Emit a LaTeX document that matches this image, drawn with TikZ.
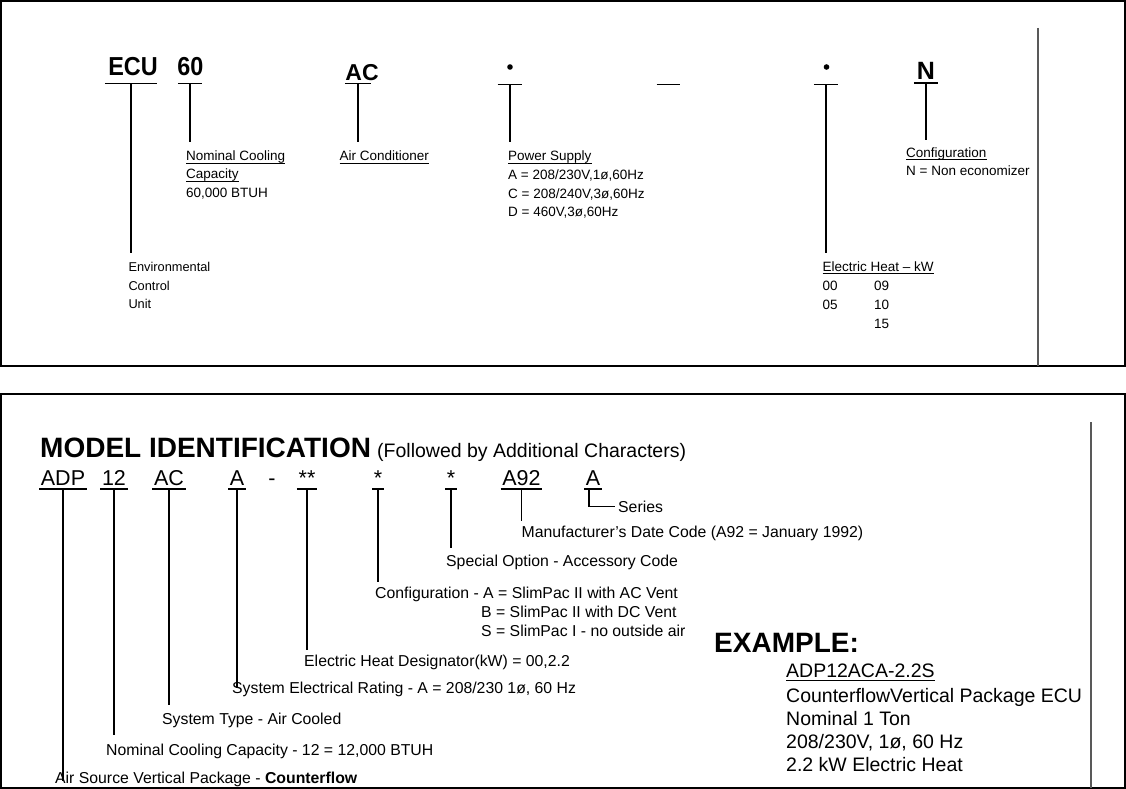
\documentclass[tikz,border=0pt]{standalone}
\usepackage{fontspec}
\setmainfont{Liberation Sans}
\usepackage{graphicx}
\newcommand\fsz[1]{\fontsize{#1}{#1}\selectfont}
\newcommand\ulx[1]{\setbox0\hbox{#1}\rlap{\rule[-3pt]{\wd0}{0.9pt}}\box0}
\begin{document}
\begin{tikzpicture}[x=1pt,y=-1pt,
  frame/.style={line width=1.8pt},
  sepline/.style={line width=1.1pt, draw=black!65},
  lead/.style={line width=1.1pt},
  blead/.style={line width=1.5pt},
  barline/.style={line width=1.6pt},
  bar/.style={inner sep=0pt, minimum height=0pt, minimum width=#1},
  tcode/.style={inner sep=0pt, anchor=base, font=\bfseries\fsz{26}},
  lbl/.style={inner sep=0pt, anchor=base west, font=\fsz{13.5}},
  bcode/.style={inner xsep=1.5pt, inner ysep=0pt, anchor=base, font=\fsz{21.5}},
  blbl/.style={inner sep=0pt, anchor=base west, font=\fsz{15.8}},
  exl/.style={inner sep=0pt, anchor=base west, font=\fsz{19.5}},
  dotn/.style={circle, fill, inner sep=0pt, minimum size=5.6pt}
]
\useasboundingbox (0,0) rectangle (1126,789);
\fill[white] (0,0) rectangle (1126,789);

% ---------- frames ----------
\draw[frame] (1,1) rectangle (1125,366);
\draw[frame] (1,394) rectangle (1125,788);
\coordinate (s1a) at (1038,28);
\coordinate (s1b) at (1038,366);
\draw[sepline] (s1a) -- (s1b);
\coordinate (s2a) at (1091,422);
\coordinate (s2b) at (1091,788);
\draw[sepline] (s2a) -- (s2b);

% ---------- top panel codes ----------
\node[tcode] (ecu) at (133,76) {\scalebox{0.9}[1]{ECU}};
\node[tcode] (sixty) at (190.5,76) {\scalebox{0.9}[1]{60}};
\node[tcode, font=\bfseries\fsz{23}] (ac) at (362,81) {AC};
\node[dotn] (dot1) at (510,67) {};
\node[dotn] (dot2) at (826.5,67) {};
\node[tcode, font=\bfseries\fsz{25}] (nn) at (926,79.5) {N};

\node[bar=52pt] (ecub) at (131,83.5) {};
\node[bar=24pt] (sixtyb) at (190,83.5) {};
\node[bar=26pt] (acb) at (358,83.5) {};
\node[bar=24.5pt] (psb) at (510,84.5) {};
\node[bar=23.5pt] (dashb) at (668.5,84.5) {};
\node[bar=24pt] (ehb) at (826,84.5) {};
\node[bar=24pt] (nb) at (926,83) {};
\foreach \b in {ecub,sixtyb,acb,psb,dashb,ehb,nb}
  \draw[barline] (\b.west) -- (\b.east);

% ---------- top panel labels ----------
\node[lbl] (nc1) at (186,160.5) {\ulx{Nominal Cooling}};
\node[lbl] (nc2) at (186,178.5) {\ulx{Capacity}};
\node[lbl] (nc3) at (186,197) {60,000 BTUH};
\node[lbl] (acl) at (339.5,160.5) {\ulx{Air Conditioner}};
\node[lbl] (ps0) at (508,160.5) {\ulx{Power Supply}};
\node[lbl] (ps1) at (508,179) {A = 208/230V,1ø,60Hz};
\node[lbl] (ps2) at (508,198) {C = 208/240V,3ø,60Hz};
\node[lbl] (ps3) at (508,216.7) {D = 460V,3ø,60Hz};
\node[lbl] (cf0) at (906,157.3) {\ulx{Configuration}};
\node[lbl] (cf1) at (906,175.7) {N = Non economizer};
\node[lbl] (eh0) at (822.5,271) {\ulx{Electric Heat – kW}};
\node[lbl] (eh1) at (822.5,290) {00};
\node[lbl] (eh2) at (874,290) {09};
\node[lbl] (eh3) at (822.5,309.3) {05};
\node[lbl] (eh4) at (874,309.3) {10};
\node[lbl] (eh5) at (874,328.3) {15};
\node[lbl, font=\fsz{12.8}] (env1) at (128.3,271.7) {Environmental};
\node[lbl, font=\fsz{12.8}] (env2) at (128.3,290) {Control};
\node[lbl, font=\fsz{12.8}] (env3) at (128.3,308.3) {Unit};

% ---------- top panel leaders ----------
\coordinate (te1) at (131,253);
\coordinate (te2) at (190,141.5);
\coordinate (te3) at (358,141.5);
\coordinate (te4) at (510,141.5);
\coordinate (te5) at (826,253);
\coordinate (te6) at (926,140);
\draw[lead] (ecub.center) -- (te1);
\draw[lead] (sixtyb.center) -- (te2);
\draw[lead] (acb.center) -- (te3);
\draw[lead] (psb.center) -- (te4);
\draw[lead] (ehb.center) -- (te5);
\draw[lead] (nb.center) -- (te6);

% ---------- bottom panel title ----------
\node[inner sep=0pt, anchor=base west, font=\bfseries\fsz{28}] (title) at (40,457) {MODEL IDENTIFICATION};
\node[inner sep=0pt, anchor=base west, font=\fsz{19.5}] (follow) at (377,457) {(Followed by Additional Characters)};

% ---------- bottom panel codes ----------
\node[bcode] (adp) at (63,485) {ADP};
\node[bcode] (twelve) at (114,485) {12};
\node[bcode] (bac) at (169,485) {AC};
\node[bcode] (ba) at (237,485) {A};
\node[bcode] (hyph) at (272,485) {-};
\node[bcode] (stars) at (307,485) {**};
\node[bcode] (star1) at (378,485) {*};
\node[bcode] (star2) at (451,485) {*};
\node[bcode] (a92) at (521.5,485) {A92};
\node[bcode] (aser) at (593,485) {A};
\foreach \c in {adp,twelve,bac,ba,stars,star1,star2,a92,aser}
  \draw[line width=1.3pt] ([yshift=-4pt]\c.base west) -- ([yshift=-4pt]\c.base east);

% ---------- bottom panel labels ----------
\node[blbl] (series) at (618,512) {Series};
\node[blbl] (mfr) at (521.5,537.5) {Manufacturer's Date Code (A92 = January 1992)};
\node[blbl] (spec) at (446,566) {Special Option - Accessory Code};
\node[blbl] (conf1) at (375,598.5) {Configuration - A = SlimPac II with AC Vent};
\node[blbl] (conf2) at (481,617.5) {B = SlimPac II with DC Vent};
\node[blbl] (conf3) at (481,636.5) {S = SlimPac I - no outside air};
\node[blbl] (ehd) at (304,666.5) {Electric Heat Designator(kW) = 00,2.2};
\node[blbl] (serl) at (232,693.5) {System Electrical Rating - A = 208/230 1ø, 60 Hz};
\node[blbl] (stl) at (162,724.5) {System Type - Air Cooled};
\node[blbl] (ncc) at (106,755) {Nominal Cooling Capacity - 12 = 12,000 BTUH};
\node[blbl] (asv) at (55,783) {Air Source Vertical Package - \textbf{Counterflow}};

% ---------- bottom panel leaders ----------
\coordinate (be1) at (63,781);
\coordinate (be2) at (114,735);
\coordinate (be3) at (169,705);
\coordinate (be4) at (237,688);
\coordinate (be5) at (307,650);
\coordinate (be6) at (378,582);
\coordinate (be7) at (451,548);
\coordinate (be8) at (521.5,521);
\draw[blead] ([yshift=-4pt]adp.base) -- (be1);
\draw[blead] ([yshift=-4pt]twelve.base) -- (be2);
\draw[blead] ([yshift=-4pt]bac.base) -- (be3);
\draw[blead] ([yshift=-4pt]ba.base) -- (be4);
\draw[blead] ([yshift=-4pt]stars.base) -- (be5);
\draw[blead] ([yshift=-4pt]star1.base) -- (be6);
\draw[blead] ([yshift=-4pt]star2.base) -- (be7);
\draw[blead] ([yshift=-4pt]a92.base) -- (be8);
\draw[blead] ([yshift=-4pt,xshift=-4pt]aser.base) |- ([xshift=-3pt]series.west);

% ---------- example ----------
\node[inner sep=0pt, anchor=base west, font=\bfseries\fsz{28}] (exh) at (714,652) {EXAMPLE:};
\node[exl] (ex1) at (786,677.5) {\ulx{ADP12ACA-2.2S}};
\node[exl] (ex2) at (786,702.5) {CounterflowVertical Package ECU};
\node[exl] (ex3) at (786,725) {Nominal 1 Ton};
\node[exl] (ex4) at (786,748) {208/230V, 1ø, 60 Hz};
\node[exl] (ex5) at (786,771.5) {2.2 kW Electric Heat};
\end{tikzpicture}
\end{document}
